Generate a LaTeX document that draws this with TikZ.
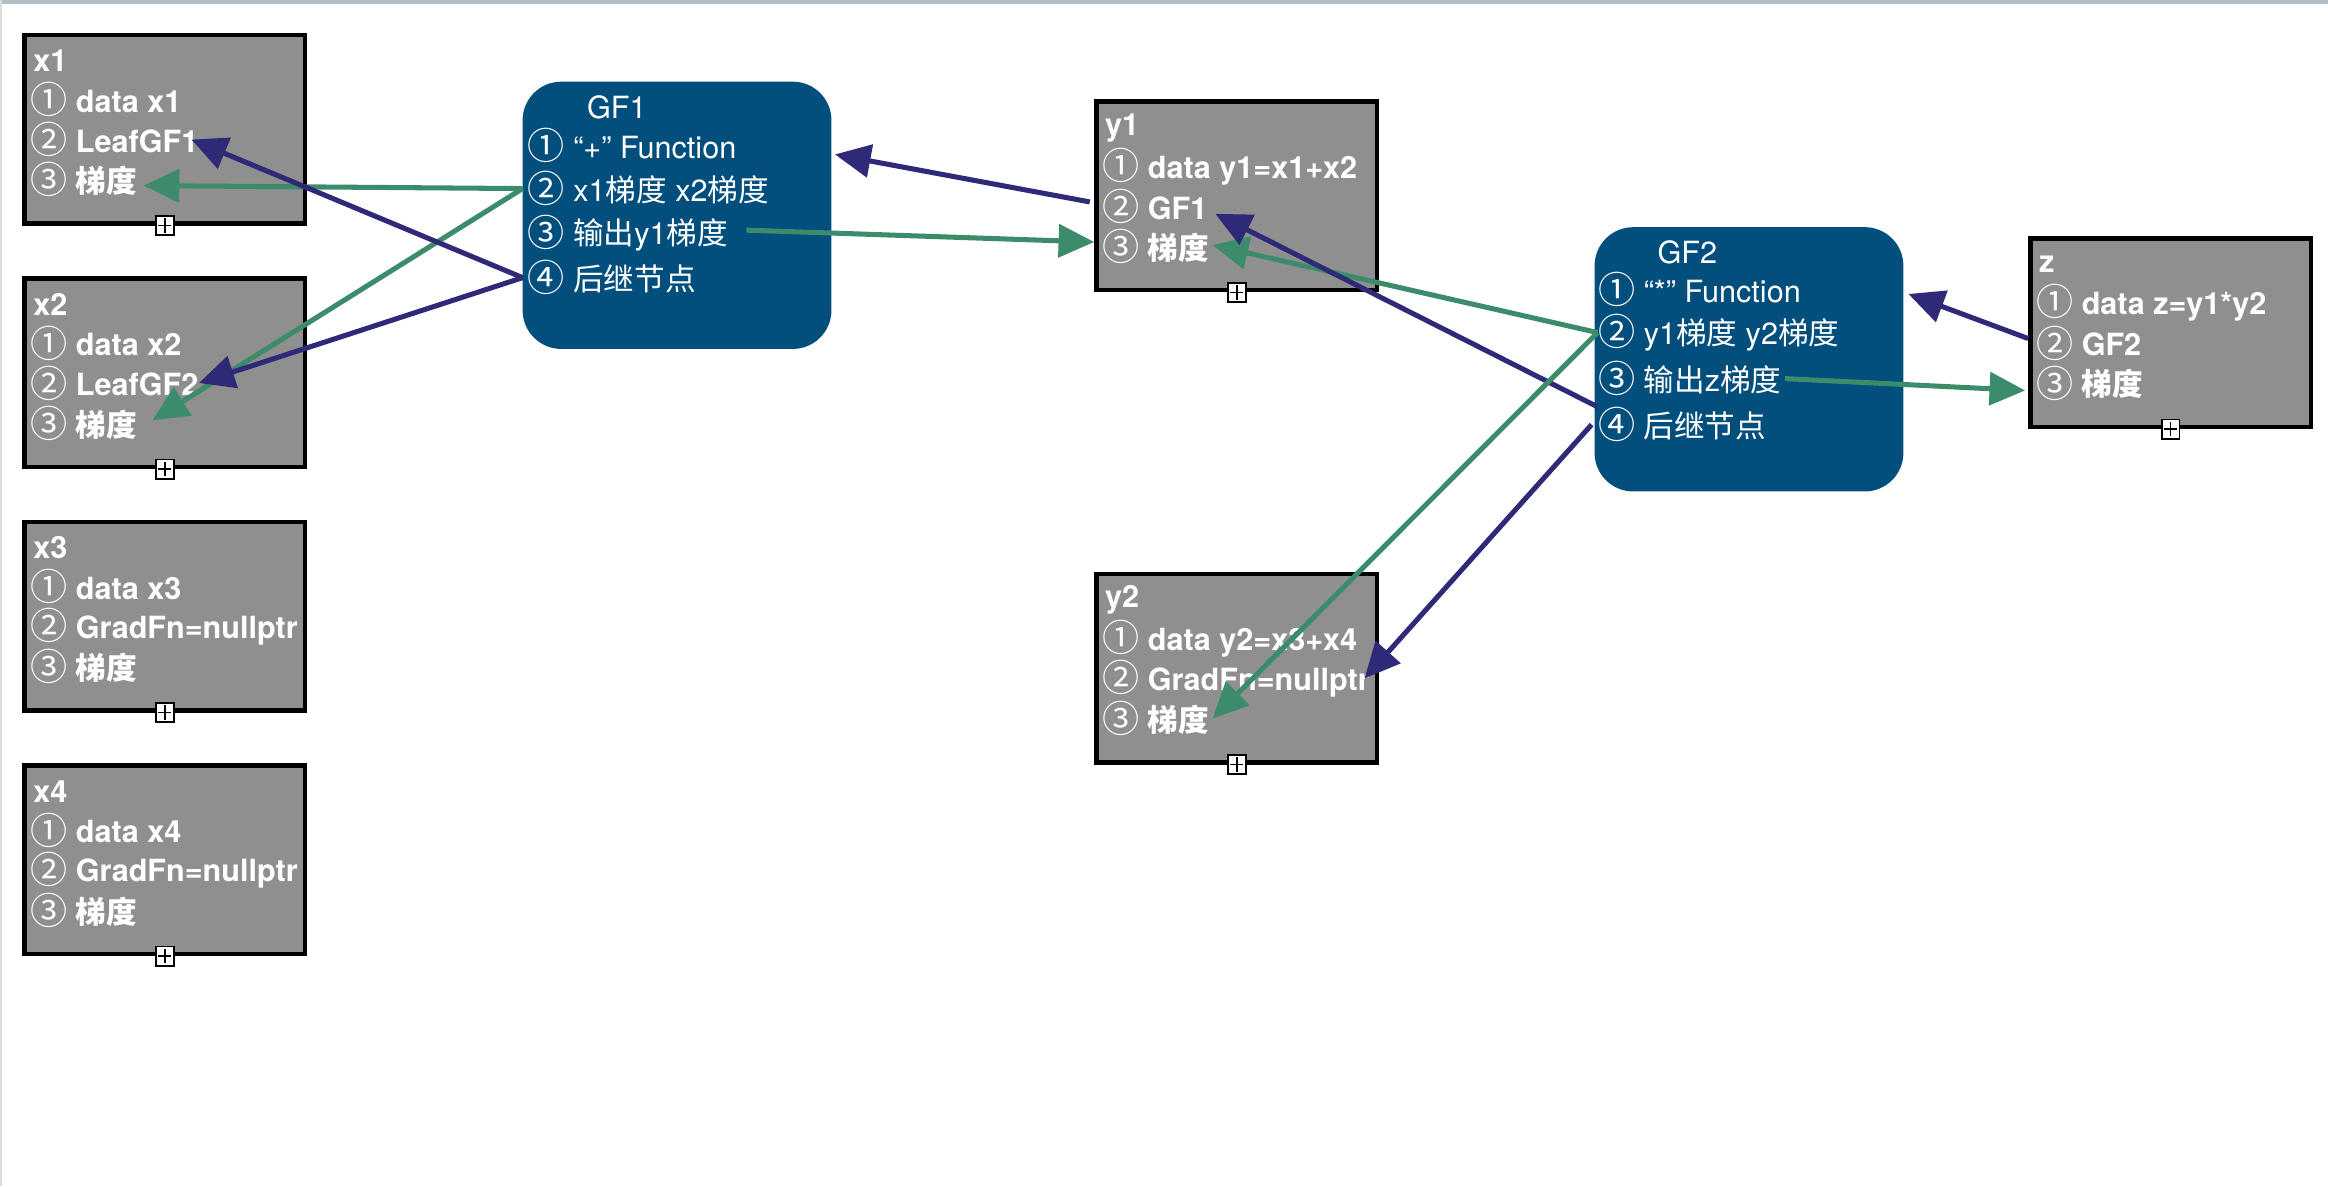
\documentclass[tikz,border=0pt]{standalone}
\usepackage{fontspec}
\setmainfont{TeX Gyre Heros}
\newfontfamily\cjk{Noto Sans CJK SC}
\usetikzlibrary{calc,arrows.meta}
\newcommand\zh[1]{{\cjk #1}}
\newcommand\cn[1]{{\cjk\mdseries\fontsize{12.5}{12}\selectfont\raisebox{-0.4pt}{#1}}}
\definecolor{boxgray}{RGB}{143,143,143}
\definecolor{gfblue}{RGB}{2,78,124}
\definecolor{pgreen}{RGB}{60,140,108}
\definecolor{ppurple}{RGB}{46,42,120}
\definecolor{topbar}{RGB}{180,188,196}
\newcommand\varnode[7]{% name, left, top, title, l1, l2, l3
  \node[gbox] (#1) at (#2+96,#3+65) {};
  \node[btxt] (#1t) at (#2+7,#3+19) {#4};
  \node[btxt] (#1a) at (#2+5,#3+45) {\cn{①} #5};
  \node[btxt] (#1b) at (#2+5,#3+72) {\cn{②} #6};
  \node[btxt] (#1c) at (#2+5,#3+99) {\cn{③} #7};
  \node[plusbox] (#1p) at (#1.south) {};
}
\begin{document}
\begin{tikzpicture}[x=0.5pt,y=-0.5pt,
  gbox/.style={draw=black,line width=1.5pt,fill=boxgray,minimum width=94.5pt,minimum height=63.5pt,inner sep=0},
  btxt/.style={text=white,font=\bfseries\fontsize{10.3}{12}\selectfont,anchor=west,inner sep=0},
  rtxt/.style={text=white,font=\fontsize{10.3}{12}\selectfont,anchor=west,inner sep=0},
  gfbox/.style={fill=gfblue,rounded corners=13pt,minimum width=104pt,inner sep=0},
  plusbox/.style={draw=black,fill=white,line width=0.6pt,minimum width=6pt,minimum height=6.5pt,inner sep=0,
    path picture={\draw[line width=0.5pt] ([yshift=-0.8pt]path picture bounding box.north) -- ([yshift=0.8pt]path picture bounding box.south)
      ([xshift=0.8pt]path picture bounding box.west) -- ([xshift=-0.8pt]path picture bounding box.east);}},
  garrow/.style={draw=pgreen,line width=1.7pt,-{Triangle[length=12pt,width=11pt]}},
  parrow/.style={draw=ppurple,line width=1.7pt,-{Triangle[length=12pt,width=11pt]}}]
\useasboundingbox (0,0) rectangle (1568,799);
\fill[topbar] (0,0) rectangle (1568,3);
\fill[topbar!50] (0,0) rectangle (1.5,799);

\varnode{x1}{15}{22}{x1}{data x1}{LeafGF1}{\zh{梯度}}
\varnode{x2}{15}{186}{x2}{data x2}{LeafGF2}{\zh{梯度}}
\varnode{x3}{15}{350}{x3}{data x3}{GradFn=nullptr}{\zh{梯度}}
\varnode{x4}{15}{514}{x4}{data x4}{GradFn=nullptr}{\zh{梯度}}
\varnode{y1}{737}{67}{y1}{data y1=x1+x2}{GF1}{\zh{梯度}}
\varnode{y2}{737}{385}{y2}{data y2=x3+x4}{GradFn=nullptr}{\zh{梯度}}
\varnode{z}{1366}{159}{z}{data z=y1*y2}{GF2}{\zh{梯度}}

\node[gfbox,minimum height=90pt] (gf1) at (456,145) {};
\node[rtxt] (gf1t) at (395,72) {GF1};
\node[rtxt] (gf1a) at (355,98) {\cn{①} “+” Function};
\node[rtxt] (gf1b) at (355,127) {\cn{②} x1\zh{梯度} x2\zh{梯度}};
\node[rtxt] (gf1c) at (355,157) {\cn{③} \zh{输出}y1\zh{梯度}};
\node[rtxt] (gf1d) at (355,187) {\cn{④} \zh{后继节点}};

\node[gfbox,minimum height=89pt] (gf2) at (1178,242) {};
\node[rtxt] (gf2t) at (1116,170) {GF2};
\node[rtxt] (gf2a) at (1076,195) {\cn{①} “*” Function};
\node[rtxt] (gf2b) at (1076,224) {\cn{②} y1\zh{梯度} y2\zh{梯度}};
\node[rtxt] (gf2c) at (1076,255) {\cn{③} \zh{输出}z\zh{梯度}};
\node[rtxt] (gf2d) at (1076,286) {\cn{④} \zh{后继节点}};

% arrows
\draw[garrow] ($(gf1b.west)+(-3,0)$) -- ($(x1c.east)+(4,4)$);
\draw[garrow] ($(gf1b.west)+(-3,0)$) -- ($(x2c.east)+(10,-2)$);
\draw[parrow] ($(gf1d.west)+(-3,0)$) -- ($(x1b.east)+(-5,0)$);
\draw[parrow] ($(gf1d.west)+(-3,0)$) -- (x2b.east);
\draw[garrow] ($(gf1c.east)+(12,-2)$) -- ($(y1.west|-y1c)+(0,-3)$);
\draw[parrow] ($(y1.west|-y1b)+(-3,-3)$) -- ($(gf1.east|-gf1a)+(2,6)$);
\draw[garrow] (gf2b.west) -- ($(y1c.east)+(2,-1)$);
\draw[parrow] ($(gf2d.west)+(0,-12)$) -- ($(y1b.east)+(5,5)$);
\draw[garrow] (gf2b.west) -- ($(y2c.east)+(2,0)$);
\draw[parrow] ($(gf2d.west)+(-4,0)$) -- ($(y2.east|-y2b)+(-10,0)$);
\draw[garrow] ($(gf2c.east)+(2,0)$) -- ($(z.west|-zc)+(-2,5)$);
\draw[parrow] ($(z.west|-zb)+(0,-3)$) -- ($(gf2.east|-gf2a)+(3,3)$);
\end{tikzpicture}
\end{document}
